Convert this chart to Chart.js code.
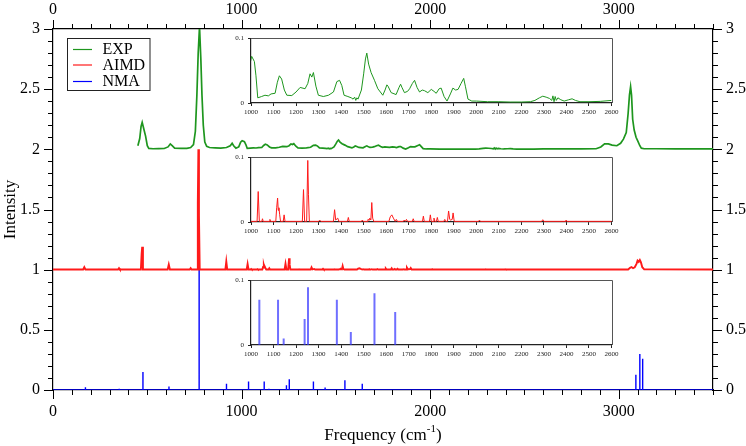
<!DOCTYPE html>
<html>
<head>
<meta charset="utf-8">
<script src="https://cdn.jsdelivr.net/npm/chart.js@4.4.1/dist/chart.umd.min.js"></script>
<style>
  html, body { margin: 0; padding: 0; background: #fff; }
  #wrap { position: relative; width: 746px; height: 446px; overflow: hidden; }
  #wrap canvas { position: absolute; }
</style>
</head>
<body>
<div id="wrap">
  <canvas id="main" width="746" height="446" style="left:0;top:0;width:746px;height:446px"></canvas>
  <canvas id="inset-exp" width="400" height="91" style="left:226px;top:30px;width:400px;height:91px"></canvas>
  <canvas id="inset-aimd" width="400" height="91" style="left:226px;top:149px;width:400px;height:91px"></canvas>
  <canvas id="inset-nma" width="400" height="91" style="left:226px;top:272px;width:400px;height:91px"></canvas>
</div>
<script>
const FONT = "'Liberation Serif', 'Times New Roman', serif";

const GREEN = 'rgb(30,150,30)';
const RED = '#ff1a1a';
const BLUE = '#0000ff';

// frequency (cm-1), intensity -- experiment
const expPoints = [
    [450, 0.03], [460, 0.09], [467, 0.19], [473, 0.224], [480, 0.18], [491, 0.11], [500, 0.03], [508, 0.008],
    [530, 0.005], [560, 0.006], [590, 0.007], [610, 0.02], [622, 0.045], [632, 0.03], [645, 0.01], [680, 0.008],
    [710, 0.008], [730, 0.015], [745, 0.04], [755, 0.15], [763, 0.45], [770, 0.8], [777, 1.02], [784, 0.75],
    [790, 0.45], [797, 0.2], [805, 0.06], [815, 0.025], [830, 0.015], [860, 0.012], [890, 0.01], [920, 0.015],
    [940, 0.03], [950, 0.05], [958, 0.03], [970, 0.01], [985, 0.02], [995, 0.06], [1003, 0.072], [1015, 0.064],
    [1022, 0.042], [1030, 0.008], [1047, 0.01], [1062, 0.012], [1077, 0.011], [1089, 0.014], [1107, 0.015],
    [1117, 0.032], [1126, 0.042], [1136, 0.037], [1148, 0.02], [1159, 0.012], [1181, 0.0115], [1200, 0.017],
    [1218, 0.024], [1240, 0.022], [1252, 0.03], [1262, 0.045], [1270, 0.04], [1277, 0.047], [1288, 0.026],
    [1299, 0.012], [1321, 0.01], [1344, 0.012], [1366, 0.017], [1381, 0.033], [1393, 0.035], [1403, 0.027],
    [1413, 0.012], [1430, 0.01], [1445, 0.008], [1453, 0.006], [1460, 0.009], [1465, 0.004], [1470, 0.008],
    [1475, 0.006], [1490, 0.02], [1500, 0.045], [1508, 0.068], [1514, 0.077], [1522, 0.06], [1533, 0.047],
    [1548, 0.035], [1563, 0.022], [1585, 0.012], [1595, 0.02], [1603, 0.028], [1608, 0.026], [1622, 0.016],
    [1644, 0.013], [1657, 0.024], [1664, 0.029], [1670, 0.024], [1681, 0.016], [1695, 0.018], [1704, 0.022],
    [1716, 0.03], [1726, 0.035], [1737, 0.024], [1748, 0.017], [1760, 0.02], [1770, 0.019], [1785, 0.016],
    [1800, 0.021], [1812, 0.018], [1822, 0.015], [1835, 0.022], [1844, 0.023], [1857, 0.01], [1870, 0.003],
    [1885, 0.014], [1896, 0.023], [1908, 0.02], [1919, 0.021], [1932, 0.03], [1944, 0.038], [1952, 0.025],
    [1963, 0.006], [1980, 0.003], [2000, 0.003], [2050, 0.002], [2100, 0.002], [2150, 0.0015], [2200, 0.0015],
    [2240, 0.002], [2260, 0.004], [2280, 0.008], [2295, 0.0105], [2310, 0.009], [2325, 0.007], [2335, 0.004],
    [2340, 0.011], [2345, 0.002], [2350, 0.01], [2355, 0.004], [2362, 0.008], [2375, 0.005], [2390, 0.003],
    [2410, 0.005], [2425, 0.0065], [2440, 0.004], [2460, 0.002], [2500, 0.002], [2550, 0.0025], [2600, 0.004],
    [2650, 0.003], [2700, 0.003], [2800, 0.003], [2880, 0.005], [2905, 0.02], [2925, 0.045], [2945, 0.045],
    [2965, 0.035], [2990, 0.03], [3010, 0.05], [3025, 0.085], [3040, 0.14], [3050, 0.3], [3057, 0.45],
    [3063, 0.52], [3068, 0.45], [3074, 0.25], [3082, 0.16], [3092, 0.1], [3102, 0.066], [3112, 0.03],
    [3120, 0.01], [3135, 0.005], [3200, 0.005], [3300, 0.004], [3400, 0.003], [3500, 0.003],
];

// AIMD spectrum
const aimdPoints = [
    [0, 0.001], [160, 0.001], [166, 0.02], [172, 0.001], [345, 0.001], [350, 0.012], [355, 0.001],
    [466, 0.001], [470, 0.13], [473, 0.19], [477, 0.001], [608, 0.001], [614, 0.042], [620, 0.001],
    [725, 0.001], [730, 0.012], [735, 0.001], [764, 0.001], [768, 0.55], [771, 1.0], [774, 0.45], [778, 0.001],
    [914, 0.001], [919, 0.068], [924, 0.001], [1027, 0.001], [1032, 0.047], [1037, 0.001], [1048, 0.001],
    [1051, 0.005], [1054, 0.001], [1081, 0.001], [1084, 0.004], [1087, 0.001], [1110, 0.001], [1114, 0.022],
    [1118, 0.037], [1121, 0.018], [1124, 0.022], [1127, 0.012], [1131, 0.001], [1143, 0.001], [1147, 0.011],
    [1151, 0.001], [1228, 0.001], [1233, 0.05], [1238, 0.001], [1247, 0.001], [1252, 0.095], [1255, 0.042],
    [1259, 0.001], [1300, 0.001], [1305, 0.003], [1310, 0.001], [1366, 0.001], [1371, 0.019], [1376, 0.003],
    [1385, 0.006], [1390, 0.001], [1428, 0.001], [1432, 0.007], [1436, 0.001], [1490, 0.001], [1494, 0.003],
    [1498, 0.001], [1515, 0.001], [1519, 0.004], [1524, 0.003], [1527, 0.006], [1532, 0.003], [1536, 0.03],
    [1540, 0.006], [1545, 0.001], [1612, 0.001], [1618, 0.008], [1625, 0.011], [1632, 0.006], [1640, 0.001],
    [1645, 0.004], [1650, 0.001], [1676, 0.001], [1680, 0.003], [1685, 0.001], [1690, 0.004], [1695, 0.001],
    [1716, 0.001], [1720, 0.005], [1724, 0.001], [1761, 0.001], [1765, 0.009], [1769, 0.001], [1792, 0.001],
    [1796, 0.011], [1800, 0.001], [1808, 0.001], [1812, 0.006], [1816, 0.001], [1823, 0.001], [1827, 0.007],
    [1831, 0.001], [1856, 0.001], [1860, 0.004], [1864, 0.001], [1872, 0.001], [1877, 0.017], [1882, 0.004],
    [1886, 0.003], [1893, 0.004], [1897, 0.014], [1902, 0.001], [2010, 0.001], [2014, 0.003], [2018, 0.001],
    [2290, 0.001], [2295, 0.0035], [2300, 0.001], [2394, 0.001], [2398, 0.003], [2402, 0.001], [3050, 0.001],
    [3060, 0.015], [3068, 0.022], [3076, 0.012], [3085, 0.02], [3095, 0.05], [3100, 0.075], [3106, 0.065],
    [3112, 0.08], [3118, 0.06], [3125, 0.02], [3135, 0.003], [3500, 0.001],
];

// normal mode analysis sticks
const nmaFreq = [172, 351, 477, 615, 775, 920, 1037, 1120, 1145, 1238, 1253, 1381, 1443, 1548, 1640, 3091, 3112, 3127];
const nmaInt = [0.022, 0.01, 0.15, 0.03, 1.0, 0.052, 0.07, 0.07, 0.01, 0.04, 0.089, 0.07, 0.02, 0.08, 0.051, 0.127, 0.3, 0.26];

const seriesLabels = ['EXP', 'AIMD', 'NMA'];
const offsets = [2, 1, 0];

const freqMajor = [0, 1000, 2000, 3000];
const intensityMajor = [0, 0.5, 1, 1.5, 2, 2.5, 3];

function isMajorY(v) {
    return intensityMajor.some(m => Math.abs(m - v) < 1e-6);
}

function fmtY(v) {
    const r = Math.round(v * 10) / 10;
    return Number.isInteger(r) ? String(r) : r.toFixed(1);
}

function toXY(points, offset) {
    return points.map(([x, y]) => ({ x, y: y + offset }));
}

function sticksWithBaseline(freqs, ints, xmax) {
    const out = [{ x: 0, y: 0 }];
    freqs.forEach((f, i) => {
        out.push({ x: f, y: 0 }, { x: f, y: ints[i] }, { x: f, y: 0 });
    });
    out.push({ x: xmax, y: 0 });
    return out;
}

function sticksOnly(freqs, ints) {
    const out = [];
    freqs.forEach((f, i) => {
        out.push({ x: f, y: 0 }, { x: f, y: ints[i] }, { x: f, y: null });
    });
    return out;
}

// outward ticks, long at labelled values, short in between
const tickMarks = {
    id: 'tickMarks',
    afterDraw(chart) {
        const ctx = chart.ctx;
        ctx.save();
        ctx.strokeStyle = '#000';
        ctx.lineWidth = 1;
        for (const id of ['x', 'xTop', 'y', 'yRight']) {
            const scale = chart.scales[id];
            for (const t of scale.ticks) {
                const p = Math.round(scale.getPixelForValue(t.value)) + 0.5;
                const major = id[0] === 'x' ? freqMajor.includes(Math.round(t.value)) : isMajorY(t.value);
                const len = major ? 9 : 5;
                ctx.beginPath();
                if (id === 'x') { ctx.moveTo(p, scale.top); ctx.lineTo(p, scale.top + len); }
                if (id === 'xTop') { ctx.moveTo(p, scale.bottom); ctx.lineTo(p, scale.bottom - len); }
                if (id === 'y') { ctx.moveTo(scale.right, p); ctx.lineTo(scale.right - len, p); }
                if (id === 'yRight') { ctx.moveTo(scale.left, p); ctx.lineTo(scale.left + len, p); }
                ctx.stroke();
            }
        }
        ctx.restore();
    },
};

const titlesAndLegend = {
    id: 'titlesAndLegend',
    afterDraw(chart) {
        const ctx = chart.ctx;
        const area = chart.chartArea;
        ctx.save();
        ctx.fillStyle = '#000';

        // x title with superscript
        const base = `17px ${FONT}`;
        const sup = `11px ${FONT}`;
        ctx.font = base;
        const w1 = ctx.measureText('Frequency (cm').width;
        const w3 = ctx.measureText(')').width;
        ctx.font = sup;
        const w2 = ctx.measureText('-1').width;
        let x = (area.left + area.right) / 2 - (w1 + w2 + w3) / 2;
        const y = 440;
        ctx.textBaseline = 'alphabetic';
        ctx.textAlign = 'left';
        ctx.font = base;
        ctx.fillText('Frequency (cm', x, y);
        x += w1;
        ctx.font = sup;
        ctx.fillText('-1', x, y - 8);
        x += w2;
        ctx.font = base;
        ctx.fillText(')', x, y);

        // y title
        ctx.save();
        ctx.translate(15, (area.top + area.bottom) / 2);
        ctx.rotate(-Math.PI / 2);
        ctx.textAlign = 'center';
        ctx.fillText('Intensity', 0, 0);
        ctx.restore();

        // legend box
        ctx.fillStyle = '#fff';
        ctx.fillRect(67.5, 38.5, 82.5, 52);
        ctx.strokeStyle = '#222';
        ctx.lineWidth = 1;
        ctx.strokeRect(67.5, 38.5, 82.5, 52);
        const rows = [49, 64.5, 81];
        ctx.font = `16px ${FONT}`;
        ctx.textBaseline = 'middle';
        chart.data.datasets.forEach((ds, i) => {
            ctx.strokeStyle = ds.borderColor;
            ctx.lineWidth = 1.2;
            ctx.beginPath();
            ctx.moveTo(73, rows[i] + 0.5);
            ctx.lineTo(92, rows[i] + 0.5);
            ctx.stroke();
            ctx.fillStyle = '#000';
            ctx.fillText(ds.label, 102.5, rows[i] + 1);
        });
        ctx.restore();
    },
};

function freqAxis(position, size, padding) {
    return {
        type: 'linear',
        position,
        min: 0,
        max: 3500,
        ticks: {
            stepSize: 100,
            autoSkip: false,
            maxRotation: 0,
            padding,
            color: '#000',
            font: { family: FONT, size: 16 },
            callback: v => (freqMajor.includes(v) ? String(v) : ''),
        },
        grid: { display: false, drawTicks: false },
        border: { display: true, color: '#000', width: 1.2 },
        afterFit(s) { s.height = size; },
    };
}

function intensityAxis(position, size, padding) {
    return {
        type: 'linear',
        position,
        min: 0,
        max: 3,
        ticks: {
            stepSize: 0.1,
            autoSkip: false,
            padding,
            color: '#000',
            font: { family: FONT, size: 16 },
            callback: v => (isMajorY(v) ? fmtY(v) : ''),
        },
        grid: { display: false, drawTicks: false },
        border: { display: true, color: '#000', width: 1.2 },
        afterFit(s) { s.width = size; },
    };
}

new Chart(document.getElementById('main'), {
    type: 'line',
    data: {
        datasets: [
            { label: seriesLabels[0], data: toXY(expPoints, offsets[0]), borderColor: GREEN, borderWidth: 1.7 },
            { label: seriesLabels[1], data: toXY(aimdPoints, offsets[1]), borderColor: RED, borderWidth: 1.9 },
            { label: seriesLabels[2], data: sticksWithBaseline(nmaFreq, nmaInt, 3500), borderColor: BLUE, borderWidth: 1.4 },
        ],
    },
    options: {
        responsive: false,
        animation: false,
        events: [],
        layout: { padding: 0 },
        elements: { point: { radius: 0 }, line: { tension: 0 } },
        plugins: { legend: { display: false }, tooltip: { enabled: false } },
        scales: {
            x: freqAxis('bottom', 56, 12),
            xTop: freqAxis('top', 29, 10),
            y: intensityAxis('left', 53, 13),
            yRight: intensityAxis('right', 33, 13),
        },
    },
    plugins: [tickMarks, titlesAndLegend],
});

const insetFrame = {
    id: 'insetFrame',
    beforeDatasetsDraw(chart) {
        const { ctx, chartArea: a } = chart;
        ctx.save();
        ctx.fillStyle = '#fff';
        ctx.fillRect(a.left + 1, a.top, a.right - a.left - 1, a.bottom - a.top - 1);
        ctx.strokeStyle = '#555';
        ctx.lineWidth = 1;
        ctx.beginPath();
        ctx.moveTo(a.left, Math.round(a.top) + 0.5);
        ctx.lineTo(Math.round(a.right) + 0.5, Math.round(a.top) + 0.5);
        ctx.lineTo(Math.round(a.right) + 0.5, a.bottom);
        ctx.stroke();
        ctx.restore();
    },
};

function makeInset(canvasId, dataset) {
    const insetGrid = { drawOnChartArea: false, drawTicks: true, tickLength: 3, color: '#222', lineWidth: 1 };
    return new Chart(document.getElementById(canvasId), {
        type: 'line',
        data: { datasets: [dataset] },
        options: {
            responsive: false,
            animation: false,
            events: [],
            layout: { padding: { top: 6, right: 14.5, left: 0, bottom: 0 } },
            elements: { point: { radius: 0 }, line: { tension: 0 } },
            plugins: { legend: { display: false }, tooltip: { enabled: false } },
            scales: {
                x: {
                    type: 'linear',
                    min: 1000,
                    max: 2600,
                    ticks: {
                        stepSize: 100,
                        autoSkip: false,
                        maxRotation: 0,
                        padding: 2,
                        color: '#222',
                        font: { family: FONT, size: 7 },
                        callback: v => String(v),
                    },
                    grid: insetGrid,
                    border: { display: true, color: '#222', width: 1.2 },
                    afterFit(s) { s.height = 18; },
                },
                y: {
                    type: 'linear',
                    min: 0,
                    max: 0.1,
                    ticks: {
                        stepSize: 0.1,
                        padding: 4,
                        color: '#222',
                        font: { family: FONT, size: 7 },
                        callback: v => (v < 0.05 ? '0' : '0.1'),
                    },
                    grid: insetGrid,
                    border: { display: true, color: '#222', width: 1.2 },
                    afterFit(s) { s.width = 25; },
                },
            },
        },
        plugins: [insetFrame],
    });
}

makeInset('inset-exp', { label: seriesLabels[0], data: toXY(expPoints, 0), borderColor: GREEN, borderWidth: 1 });
makeInset('inset-aimd', { label: seriesLabels[1], data: toXY(aimdPoints, 0), borderColor: RED, borderWidth: 1 });
makeInset('inset-nma', { label: seriesLabels[2], data: sticksOnly(nmaFreq, nmaInt), borderColor: 'rgba(50,50,255,0.7)', borderWidth: 2, spanGaps: false });
</script>
</body>
</html>
